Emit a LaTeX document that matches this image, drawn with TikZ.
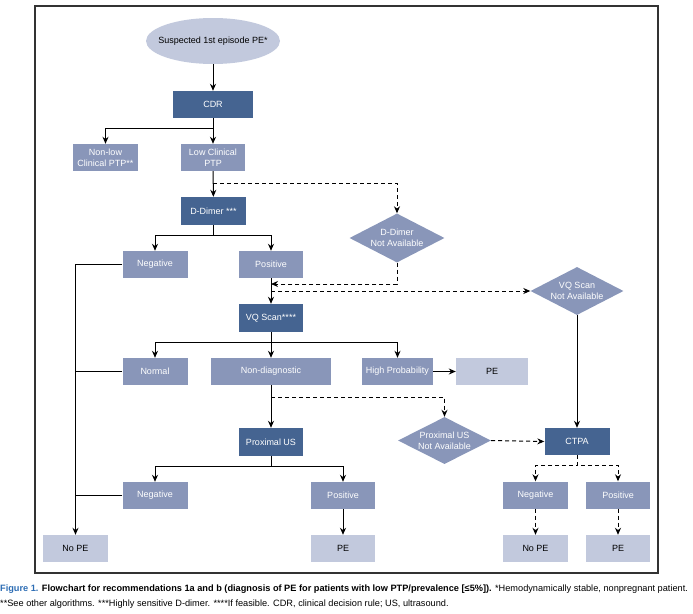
\documentclass[tikz,border=0pt]{standalone}
\usepackage{fontspec}
\setmainfont{Liberation Sans}
\usetikzlibrary{shapes.geometric,arrows.meta}
\definecolor{cdark}{HTML}{456491}
\definecolor{cmid}{HTML}{8996B9}
\definecolor{clight}{HTML}{C2C9DD}
\definecolor{cframe}{HTML}{333333}
\definecolor{capblue}{HTML}{2D6DB4}

\begin{document}
\begin{tikzpicture}[x=1pt,y=-1pt,
  font=\fontsize{9}{11}\selectfont,
  box/.style={inner sep=0pt, minimum height=27pt, align=center},
  darkbox/.style={box, fill=cdark, text=white},
  midbox/.style={box, fill=cmid, text=white},
  lightbox/.style={box, fill=clight, text=black},
  decision/.style={diamond, aspect=2, fill=cmid, text=white, inner sep=0pt,
    align=center, minimum width=94pt, minimum height=48pt},
  arr/.style={-{Stealth[length=7pt,width=6pt]}, line width=1pt},
  dasharr/.style={arr, dash pattern=on 4pt off 3pt},
  plain/.style={line width=1pt},
  captext/.style={anchor=base west, inner sep=0pt, font=\fontsize{9.2}{11}\selectfont}]

\useasboundingbox (0,0) rectangle (693,613);
\draw[cframe, line width=1.2pt] (35,6) rectangle (658,573);

\node[ellipse, fill=clight, inner xsep=-8pt, inner ysep=0pt, minimum width=134pt,
  minimum height=46pt] (start) at (213,41) {Suspected 1st episode PE*};
\node[darkbox, minimum width=80pt] (cdr) at (213,104.5) {CDR};
\node[midbox, minimum width=65pt] (nonlow) at (105.5,157.5) {Non-low\\Clinical PTP**};
\node[midbox, minimum width=64pt] (lowptp) at (213,157.5) {Low Clinical\\PTP};
\node[darkbox, minimum width=65pt, minimum height=28pt] (ddimer) at (213.5,211) {D-Dimer ***};
\node[decision, minimum width=95pt, minimum height=49pt] (ddna) at (397,238) {D-Dimer\\Not Available};
\node[midbox, minimum width=65pt] (negdd) at (155,264.5) {Negative};
\node[midbox, minimum width=64pt] (posdd) at (271,264.5) {Positive};
\node[darkbox, minimum width=64pt, minimum height=28pt] (vqscan) at (271,318) {VQ Scan****};
\node[decision, minimum width=93pt] (vqna) at (577,291) {VQ Scan\\Not Available};
\node[midbox, minimum width=65pt] (normal) at (155,371.5) {Normal};
\node[midbox, minimum width=120pt] (nondiag) at (271,371.5) {Non-diagnostic};
\node[midbox, minimum width=71pt] (highprob) at (397.5,371.5) {High Probability};
\node[lightbox, minimum width=72pt] (pehigh) at (492,371.5) {PE};
\node[darkbox, minimum width=64pt, minimum height=28pt] (proxus) at (271,442) {Proximal US};
\node[decision, minimum width=93pt, minimum height=47pt] (proxna) at (444.5,440.5) {Proximal US\\Not Available};
\node[darkbox, minimum width=65pt] (ctpa) at (577,441.5) {CTPA};
\node[midbox, minimum width=65pt] (negus) at (155,495.5) {Negative};
\node[midbox, minimum width=64pt] (posus) at (343,495.5) {Positive};
\node[midbox, minimum width=65pt] (negct) at (535.5,495) {Negative};
\node[midbox, minimum width=64pt] (posct) at (618,495) {Positive};
\node[lightbox, minimum width=65pt] (nope) at (75.5,548.5) {No PE};
\node[lightbox, minimum width=64pt] (peus) at (343,548.5) {PE};
\node[lightbox, minimum width=65pt] (nopect) at (535.5,548.5) {No PE};
\node[lightbox, minimum width=64pt] (pect) at (618,548.5) {PE};

\coordinate (jnleft) at (271,284);
\coordinate (jnright) at (271,291);

\draw[arr] (start) -- (cdr);
\draw[arr] (cdr.south) -- ++(0,10) -| (nonlow.north);
\draw[arr] (cdr) -- (lowptp);
\draw[arr] (lowptp) -- (ddimer);
\draw[dasharr] (lowptp.south) ++(0,12) -| (ddna.north);
\draw[arr] (ddimer.south) -- ++(0,10) -| (negdd.north);
\draw[arr] (ddimer.south) -- ++(0,10) -| (posdd.north);
\draw[arr] (negdd.west) -| (nope.north);
\draw[plain] (normal.west) -- (normal.west -| nope.north);
\draw[plain] (negus.west) -- (negus.west -| nope.north);
\draw[arr] (posdd) -- (vqscan);
\draw[dasharr] (ddna.south) |- (jnleft);
\draw[dasharr] (jnright) -- (vqna.west);
\draw[arr] (vqna.south) -- (ctpa.north);
\draw[arr] (vqscan.south) -- ++(0,10) -| (normal.north);
\draw[arr] (vqscan) -- (nondiag);
\draw[arr] (vqscan.south) -- ++(0,10) -| (highprob.north);
\draw[arr] (highprob) -- (pehigh);
\draw[arr] (nondiag) -- (proxus);
\draw[dasharr] (nondiag.south) ++(0,12) -| (proxna.north);
\draw[dasharr] (proxna.east) -- (ctpa.west);
\draw[arr] (proxus.south) -- ++(0,10) -| (negus.north);
\draw[arr] (proxus.south) -- ++(0,10) -| (posus.north);
\draw[arr] (posus) -- (peus);
\draw[dasharr] (ctpa.south) -- ++(0,10) -| (negct.north);
\draw[dasharr] (ctpa.south) -- ++(0,10) -| (posct.north);
\draw[dasharr] (negct) -- (nopect);
\draw[dasharr] (posct) -- (pect);

\node[captext] (cap1) at (0,591)
  {\textcolor{capblue}{\textbf{Figure 1.}} \textbf{Flowchart for recommendations 1a and b (diagnosis of PE for patients with low PTP/prevalence [≤5\%]).} *Hemodynamically stable, nonpregnant patient.};
\node[captext] (cap2) at (0,606)
  {**See other algorithms. ***Highly sensitive D-dimer. ****If feasible. CDR, clinical decision rule; US, ultrasound.};
\end{tikzpicture}
\end{document}
